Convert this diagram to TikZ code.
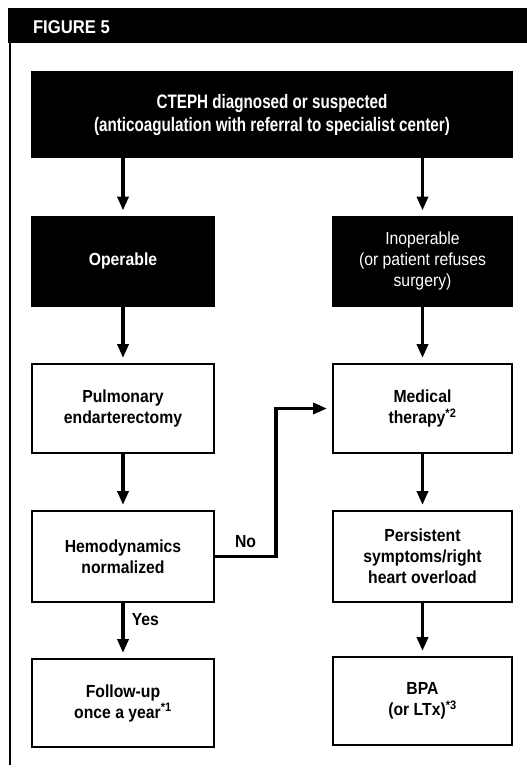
\documentclass[tikz,border=0pt]{standalone}
\usepackage{fontspec}
\setmainfont{Liberation Sans}[FakeStretch=0.9]
\newfontfamily\condfont{Liberation Sans}[FakeStretch=0.78]
\usetikzlibrary{arrows.meta, positioning}
\tikzset{
  every picture/.style={font=\fontsize{17.5}{21}\selectfont\bfseries, line width=2pt},
  box/.style={draw=black, fill=white, align=center, minimum width=182pt, minimum height=89pt, inner sep=4pt},
  blk/.style={box, fill=black, text=white},
  arrow/.style={-{Triangle[length=14pt, width=11pt]}, line width=3.5pt, shorten >=5pt},
  lbl/.style={font=\fontsize{17.5}{21}\selectfont\bfseries, inner sep=4pt},
}

\begin{document}
\begin{tikzpicture}[x=1pt, y=-1pt]
  \useasboundingbox (0,0) rectangle (527,769);
  \fill[black] (8,8) rectangle (527,43);
  \node[anchor=base west, text=white, inner sep=0pt, font=\fontsize{18.5}{20}\selectfont\bfseries] (fig) at (32,33) {FIGURE 5};
  \draw[line width=1.5pt] (10,43) -- (10,765);
  \node[blk, minimum width=480pt, minimum height=85pt, font=\condfont\fontsize{19.5}{23}\selectfont\bfseries] (diag) at (272,114.5) {CTEPH diagnosed or suspected\\(anticoagulation with referral to specialist center)};
  \node[blk] (op) at (123,261) {Operable};
  \node[blk, minimum width=179pt, font=\fontsize{17.5}{21}\selectfont\mdseries] (inop) at (422.5,261) {Inoperable\\(or patient refuses\\surgery)};
  \node[box] (pul) at (123,408.5) {Pulmonary\\endarterectomy};
  \node[box, minimum width=179pt] (med) at (422.5,408.5) {Medical\\therapy\textsuperscript{*2}};
  \node[box, minimum height=91pt] (hem) at (123,556.5) {Hemodynamics\\normalized};
  \node[box, minimum width=179pt, minimum height=91pt] (per) at (422.5,556.5) {Persistent\\symptoms/right\\heart overload};
  \node[box, minimum height=88pt] (fol) at (123,703) {Follow-up\\once a year\textsuperscript{*1}};
  \node[box, minimum width=179pt, minimum height=88pt] (bpa) at (422.5,701) {BPA\\(or LTx)\textsuperscript{*3}};
  \draw[arrow] (diag.south -| op) -- (op);
  \draw[arrow] (diag.south -| inop) -- (inop);
  \foreach \a/\b in {op/pul, pul/hem, inop/med, med/per, per/bpa} \draw[arrow] (\a) -- (\b);
  \draw[arrow] (hem) -- node[lbl, right, pos=0.3, xshift=3pt] {Yes} (fol);
  \draw[arrow] (hem.east) -- node[lbl, above=3pt] {No} ++(61,0) |- (med.west);
\end{tikzpicture}
\end{document}
